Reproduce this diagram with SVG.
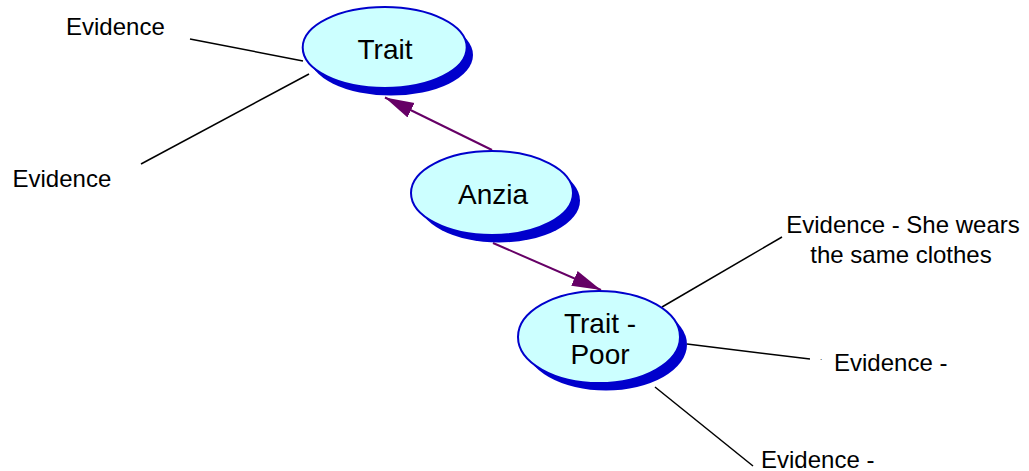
<svg xmlns="http://www.w3.org/2000/svg" width="1029" height="471" viewBox="0 0 1029 471">
<style>
.shadow{fill:#0000cc;stroke:none}
.node{fill:#ccffff;stroke:#0000cc;stroke-width:2}
.lbl{font-family:"Liberation Sans",Arial,sans-serif;font-size:28px;fill:#000;text-anchor:middle}
.ev{font-family:"Liberation Sans",Arial,sans-serif;font-size:24px;fill:#000}
.link{stroke:#000;stroke-width:1.5;fill:none}
.arrow{stroke:#660066;stroke-width:2;fill:none}
</style>
<defs>
<marker id="ah" markerUnits="userSpaceOnUse" markerWidth="30" markerHeight="18" refX="29" refY="8" orient="auto">
<path d="M0,0 L29,8 L0,16 z" fill="#660066"/>
</marker>
</defs>
<rect width="1029" height="471" fill="#fff"/>
<g id="connectors">
<line class="link" x1="190" y1="39" x2="303" y2="61"/>
<line class="link" x1="141" y1="164" x2="309" y2="74"/>
<line class="link" x1="662" y1="307" x2="782" y2="237"/>
<line class="link" x1="687" y1="344" x2="810" y2="359"/>
<line class="link" x1="655" y1="387" x2="753" y2="466"/>
<line class="arrow" x1="492" y1="150" x2="385" y2="97.5" marker-end="url(#ah)"/>
<line class="arrow" x1="493" y1="243" x2="601" y2="290" marker-end="url(#ah)"/>
</g>
<g id="trait">
<ellipse class="shadow" cx="391" cy="55" rx="82" ry="40.5"/>
<ellipse class="node" cx="384.7" cy="47.5" rx="82" ry="40.5"/>
<text class="lbl" x="385" y="58.5">Trait</text>
</g>
<g id="anzia">
<ellipse class="shadow" cx="499" cy="200.5" rx="81" ry="42"/>
<ellipse class="node" cx="492" cy="193" rx="81" ry="42"/>
<text class="lbl" x="493" y="204">Anzia</text>
</g>
<g id="trait-poor">
<ellipse class="shadow" cx="606" cy="344.5" rx="81" ry="46"/>
<ellipse class="node" cx="599" cy="337" rx="81" ry="46"/>
<text class="lbl" x="600" y="333">Trait -</text>
<text class="lbl" x="600" y="364">Poor</text>
</g>
<g id="ev1"><text class="ev" x="66" y="35">Evidence</text></g>
<g id="ev2"><text class="ev" x="12.5" y="187">Evidence</text></g>
<g id="ev3"><text class="ev" text-anchor="middle" x="903" y="233">Evidence - She wears</text><text class="ev" text-anchor="middle" x="901" y="263">the same clothes</text></g>
<g id="ev4"><text class="ev" x="820" y="360" style="font-size:8px">.</text><text class="ev" x="834" y="371">Evidence -</text></g>
<g id="ev5"><text class="ev" x="761" y="468">Evidence -</text></g>
</svg>
